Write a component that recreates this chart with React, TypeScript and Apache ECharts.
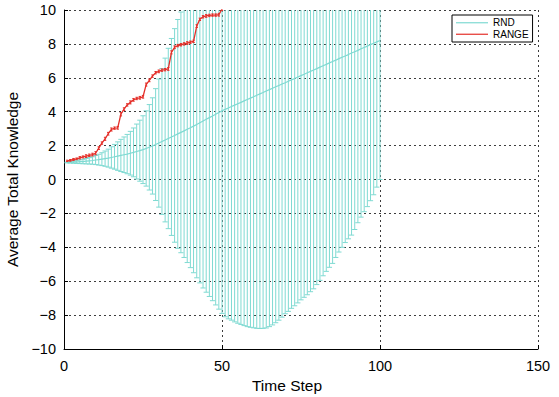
import React, { useEffect, useRef } from 'react';
import * as echarts from 'echarts';

// RND: mean and standard deviation for time steps 1..100
const rndMean = [
  1.00, 1.01, 1.02, 1.03, 1.05, 1.06, 1.08, 1.10, 1.12, 1.15,
  1.17, 1.20, 1.23, 1.26, 1.30, 1.34, 1.38, 1.42, 1.46, 1.50,
  1.55, 1.60, 1.65, 1.70, 1.76, 1.83, 1.90, 1.98, 2.06, 2.15,
  2.24, 2.33, 2.42, 2.51, 2.60, 2.69, 2.78, 2.87, 2.96, 3.05,
  3.15, 3.25, 3.35, 3.45, 3.55, 3.65, 3.75, 3.85, 3.95, 4.05,
  4.14, 4.22, 4.31, 4.39, 4.47, 4.55, 4.64, 4.72, 4.80, 4.88,
  4.97, 5.05, 5.13, 5.22, 5.30, 5.38, 5.47, 5.55, 5.63, 5.71,
  5.80, 5.88, 5.96, 6.05, 6.13, 6.21, 6.30, 6.38, 6.46, 6.54,
  6.63, 6.71, 6.79, 6.88, 6.96, 7.04, 7.13, 7.21, 7.29, 7.37,
  7.46, 7.54, 7.62, 7.71, 7.79, 7.87, 7.96, 8.04, 8.12, 8.20,
];
const rndStd = [
  0.02, 0.04, 0.06, 0.08, 0.11, 0.13, 0.16, 0.19, 0.22, 0.27,
  0.32, 0.38, 0.45, 0.53, 0.63, 0.73, 0.84, 0.95, 1.05, 1.16,
  1.29, 1.44, 1.62, 1.80, 2.00, 2.22, 2.52, 2.84, 3.30, 3.78,
  4.30, 4.83, 5.32, 5.81, 6.30, 6.75, 7.10, 7.47, 7.86, 8.25,
  8.65, 9.05, 9.45, 9.85, 10.20, 10.55, 10.90, 11.25, 11.60, 11.95,
  12.24, 12.44, 12.61, 12.79, 12.95, 13.10, 13.26, 13.40, 13.52, 13.63,
  13.75, 13.84, 13.91, 13.98, 13.98, 13.96, 13.92, 13.85, 13.75, 13.63,
  13.58, 13.48, 13.41, 13.33, 13.23, 13.16, 13.10, 13.00, 12.91, 12.74,
  12.58, 12.39, 12.21, 12.06, 11.91, 11.64, 11.41, 11.21, 11.01, 10.87,
  10.74, 10.49, 10.17, 9.93, 9.69, 9.47, 9.21, 8.94, 8.57, 8.20,
];

// RANGE: mean and (small) standard deviation for time steps 1..52
const rangeMean = [
  1.10, 1.13, 1.18, 1.22, 1.28, 1.33, 1.38, 1.43, 1.47, 1.55,
  1.85, 2.15, 2.40, 2.70, 2.95, 3.03, 3.05, 3.85, 4.15, 4.40,
  4.55, 4.70, 4.78, 4.82, 4.88, 5.60, 5.85, 6.10, 6.30, 6.38,
  6.45, 6.48, 6.52, 7.50, 7.80, 7.90, 7.95, 8.00, 8.05, 8.10,
  8.15, 9.05, 9.45, 9.60, 9.65, 9.68, 9.70, 9.70, 9.72, 10.05,
  10.40, 10.60,
];
const rangeStd = [
  0.04, 0.05, 0.06, 0.05, 0.07, 0.06, 0.08, 0.07, 0.08, 0.09,
  0.08, 0.07, 0.09, 0.08, 0.09, 0.07, 0.08, 0.10, 0.08, 0.07,
  0.09, 0.08, 0.07, 0.08, 0.08, 0.09, 0.08, 0.07, 0.07, 0.08,
  0.07, 0.07, 0.08, 0.09, 0.08, 0.07, 0.07, 0.07, 0.08, 0.07,
  0.07, 0.08, 0.07, 0.07, 0.08, 0.07, 0.07, 0.07, 0.08, 0.07,
  0.07, 0.07,
];

const xTicks = [0, 50, 100, 150];
const yTicks = [-10, -8, -6, -4, -2, 0, 2, 4, 6, 8, 10];

const CYAN = '#7fdad2';
const RED = '#e4302a';
const FONT = '"Liberation Sans", Arial, Helvetica, sans-serif';

export default function App() {
  const ref = useRef<HTMLDivElement>(null);

  useEffect(() => {
    document.body.style.margin = '0';
    const chart = echarts.init(ref.current as HTMLDivElement, null, { renderer: 'svg' });

    const rndLine = rndMean.map((m, i) => [i + 1, m]);
    const rndErr = rndMean.map((m, i) => [i + 1, m - rndStd[i], m + rndStd[i]]);
    const rangeLine = rangeMean.map((m, i) => [i + 1, m]);
    const rangeErr = rangeMean.map((m, i) => [i + 1, m - rangeStd[i], m + rangeStd[i]]);

    const errRender = (color: string, cap: number) => (params: any, api: any) => {
      const x = api.value(0);
      const pLo = api.coord([x, api.value(1)]);
      const pHi = api.coord([x, api.value(2)]);
      const style = { stroke: color, lineWidth: 1, fill: 'none' };
      return {
        type: 'group',
        children: [
          { type: 'line', shape: { x1: pLo[0], y1: pLo[1], x2: pHi[0], y2: pHi[1] }, style },
          { type: 'line', shape: { x1: pLo[0] - cap, y1: pLo[1], x2: pLo[0] + cap, y2: pLo[1] }, style },
          { type: 'line', shape: { x1: pHi[0] - cap, y1: pHi[1], x2: pHi[0] + cap, y2: pHi[1] }, style },
        ],
      };
    };

    const gridLine = { show: true, lineStyle: { color: '#3c3c3c', type: [2, 3] as any, width: 1 } };

    chart.setOption({
      animation: false,
      backgroundColor: '#ffffff',
      textStyle: { fontFamily: FONT },
      grid: { left: 64, top: 10, width: 474, height: 339, containLabel: false, outerBoundsMode: 'none' },
      xAxis: {
        type: 'value',
        min: xTicks[0],
        max: xTicks[xTicks.length - 1],
        interval: 50,
        name: 'Time Step',
        nameLocation: 'middle',
        nameGap: 26,
        nameTextStyle: { color: '#000', fontSize: 15.5, fontFamily: FONT, padding: [0, 28, 0, 0] },
        axisLine: { show: true, onZero: false, lineStyle: { color: '#000', width: 1 } },
        axisTick: { show: true, inside: true, length: 4, lineStyle: { color: '#000' } },
        axisLabel: { color: '#000', fontSize: 14.5, fontFamily: FONT, margin: 9 },
        splitLine: gridLine,
      },
      yAxis: {
        type: 'value',
        min: yTicks[0],
        max: yTicks[yTicks.length - 1],
        interval: 2,
        name: 'Average Total Knowledge',
        nameLocation: 'middle',
        nameGap: 42,
        nameTextStyle: { color: '#000', fontSize: 15.5, fontFamily: FONT },
        axisLine: { show: true, onZero: false, lineStyle: { color: '#000', width: 1 } },
        axisTick: { show: true, inside: true, length: 4, lineStyle: { color: '#000' } },
        axisLabel: {
          color: '#000', fontSize: 14.5, fontFamily: FONT, margin: 8,
          formatter: (v: number) => String(v).replace('-', '\u2212'),
        },
        splitLine: gridLine,
      },
      legend: {
        orient: 'vertical',
        left: 452,
        top: 15,
        padding: [2, 4, 2, 4],
        itemGap: 0,
        itemWidth: 32,
        itemHeight: 1.2,
        backgroundColor: '#fff',
        borderColor: '#000',
        borderWidth: 1,
        textStyle: { color: '#000', fontSize: 10, fontFamily: FONT, lineHeight: 11.5 },
        data: [
          { name: 'RND', icon: 'rect' },
          { name: 'RANGE', icon: 'rect' },
        ],
      },
      series: [
        {
          name: 'RND error',
          type: 'custom',
          clip: true,
          renderItem: errRender(CYAN, 2.6),
          encode: { x: 0, y: [1, 2] },
          data: rndErr,
          z: 2,
        },
        {
          name: 'RND',
          type: 'line',
          data: rndLine,
          symbol: 'none',
          showSymbol: false,
          clip: true,
          lineStyle: { color: CYAN, width: 1.2 },
          itemStyle: { color: CYAN },
          z: 3,
        },
        {
          name: 'RANGE error',
          type: 'custom',
          clip: true,
          renderItem: errRender(RED, 1.2),
          encode: { x: 0, y: [1, 2] },
          data: rangeErr,
          z: 4,
        },
        {
          name: 'RANGE',
          type: 'line',
          data: rangeLine,
          symbol: 'none',
          showSymbol: false,
          clip: true,
          lineStyle: { color: RED, width: 1.3 },
          itemStyle: { color: RED },
          z: 5,
        },
      ],
    });

    return () => chart.dispose();
  }, []);

  return <div ref={ref} style={{ width: 559, height: 397 }} />;
}
